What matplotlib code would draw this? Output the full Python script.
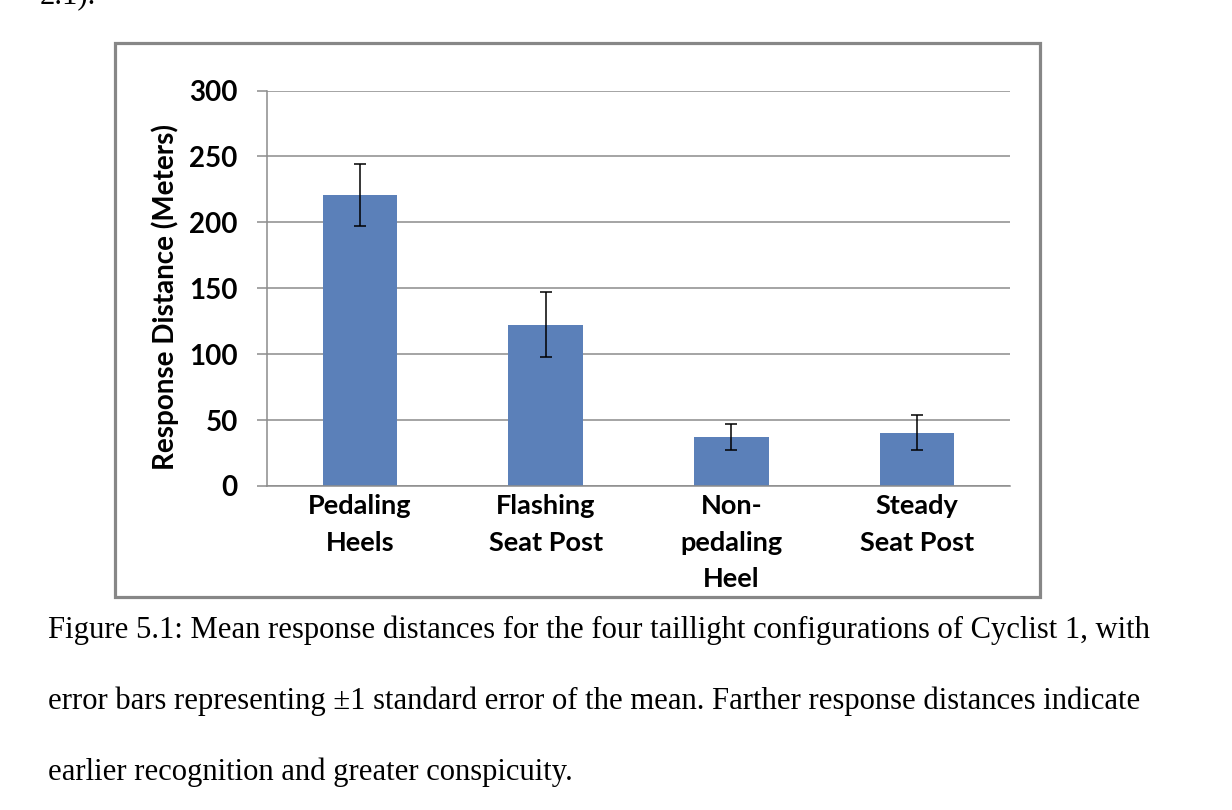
import matplotlib.pyplot as plt
from matplotlib.patches import Rectangle

## mean response distance per taillight configuration (Cyclist 1)
categories = ["Pedaling\nHeels", "Flashing\nSeat Post", "Non-\npedaling\nHeel", "Steady\nSeat Post"]
means = [220.5, 122.5, 37.0, 40.5]
std_err = [23.5, 25.0, 10.0, 13.5]
y_ticks = [0, 50, 100, 150, 200, 250, 300]

caption = [
    "Figure 5.1: Mean response distances for the four taillight configurations of Cyclist 1, with",
    "error bars representing \u00b11 standard error of the mean. Farther response distances indicate",
    "earlier recognition and greater conspicuity.",
]

fig = plt.figure(figsize=(12.32, 8.10), dpi=100)

# grey frame round the chart, as pasted from Excel
fig.patches.append(Rectangle((115 / 1232, 1 - 597 / 810), 925 / 1232, 554 / 810,
                             transform=fig.transFigure, fill=False,
                             edgecolor="#878787", linewidth=2.3, zorder=0))

ax = fig.add_axes([267 / 1232, 1 - 486 / 810, 743 / 1232, 395.5 / 810])
x = range(len(categories))
ax.bar(x, means, width=0.4, color="#5b80b9", zorder=2)
ax.errorbar(x, means, yerr=std_err, fmt="none", ecolor="black",
            elinewidth=1.1, capsize=4.3, capthick=1.1, zorder=3)

ax.set_xlim(-0.5, 3.5)
ax.set_ylim(0, 300)
ax.set_yticks(y_ticks)
ax.yaxis.grid(True, color="#8c8c8c", linewidth=1.1, zorder=0)
ax.set_axisbelow(True)
for side in ["top", "right"]:
    ax.spines[side].set_visible(False)
ax.spines["left"].set_color("#8c8c8c")
ax.spines["bottom"].set_color("#8c8c8c")
ax.spines["left"].set_linewidth(1.1)
ax.spines["bottom"].set_linewidth(1.1)

ax.set_xticks(list(x))
ax.set_xticklabels(categories, fontfamily="Lato", fontweight="bold",
                   fontsize=19.5, linespacing=1.62)
ax.tick_params(axis="x", length=0, pad=6)
ax.tick_params(axis="y", length=7, width=1.1, color="#8c8c8c", pad=14,
               labelsize=20)
for lab in ax.get_yticklabels():
    lab.set_fontfamily("Lato")
    lab.set_fontweight("bold")

fig.text(165 / 1232, 1 - 297 / 810, "Response Distance (Meters)", rotation=90,
         ha="center", va="center", fontfamily="Lato", fontweight="bold",
         fontsize=20)

# caption below the chart
for i, line in enumerate(caption):
    fig.text(48 / 1232, 1 - (638 + 71 * i) / 810, line, ha="left", va="baseline",
             fontfamily="Liberation Serif", fontsize=22.1)
fig.text(40 / 1232, 1 - 3 / 810, "2.1).", ha="left", va="baseline",
         fontfamily="Liberation Serif", fontsize=22.1)

fig.savefig("out.png", dpi=100)
